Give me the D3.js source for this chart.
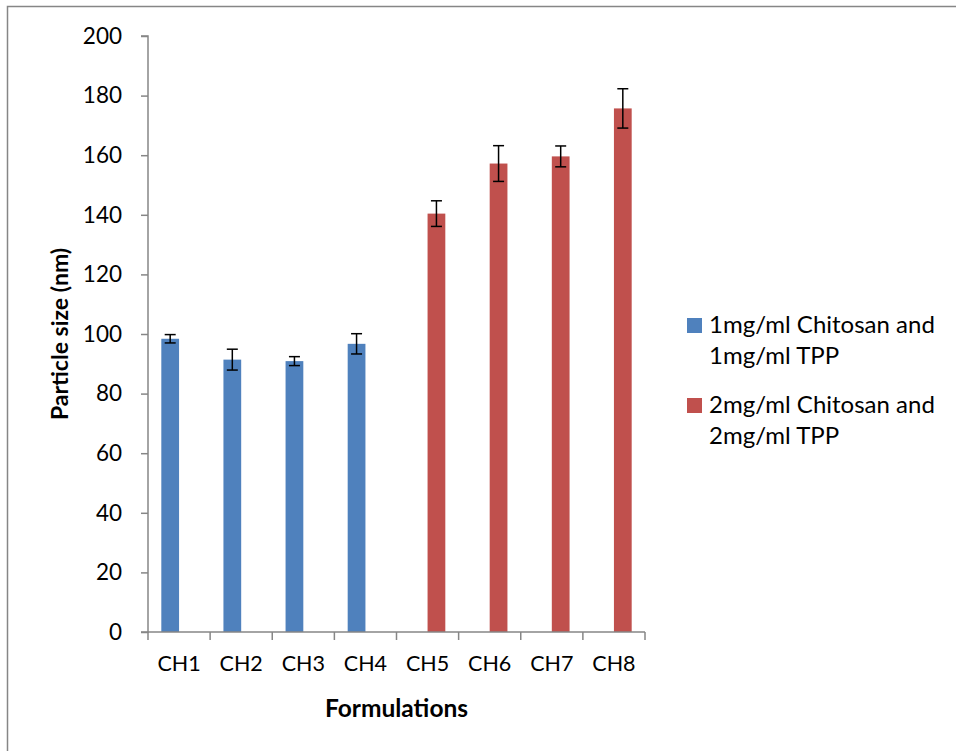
<!DOCTYPE html>
<html>
<head>
<meta charset="utf-8">
<script src="https://cdn.jsdelivr.net/npm/d3@7"></script>
<style>
  html, body { margin: 0; padding: 0; background: #fff; }
  svg { display: block; font-family: Lato, "Open Sans", sans-serif; }
</style>
</head>
<body>
<svg id="chart" width="956" height="751"></svg>
<script>
const categories = ["CH1", "CH2", "CH3", "CH4", "CH5", "CH6", "CH7", "CH8"];
const seriesNames = ["1mg/ml Chitosan and 1mg/ml TPP", "2mg/ml Chitosan and 2mg/ml TPP"];
const legendLines = [["1mg/ml Chitosan and", "1mg/ml TPP"], ["2mg/ml Chitosan and", "2mg/ml TPP"]];
const series1Values = [98.4, 91.4, 90.9, 96.7, null, null, null, null];
const series1Errors = [1.4, 3.5, 1.5, 3.4, null, null, null, null];
const series2Values = [null, null, null, null, 140.4, 157.2, 159.6, 175.7];
const series2Errors = [null, null, null, null, 4.3, 6.0, 3.5, 6.6];
const yTicks = [0, 20, 40, 60, 80, 100, 120, 140, 160, 180, 200];
const colors = ["#4F81BD", "#C0504D"];

(function () {
const svg = d3.select("#chart");
const pLeft = 148, pRight = 645, pTop = 36, pBottom = 632;
const axisColor = "#868686";

// outer border (top and left visible)
svg.append("path").attr("d", "M7.5,760 V6.5 H970")
  .attr("fill", "none").attr("stroke", axisColor).attr("stroke-width", 1.5);

const x = d3.scaleBand().domain(categories).range([pLeft, pRight]).padding(0);
const y = d3.scaleLinear().domain([0, 200]).range([pBottom, pTop]);
const gapWidth = 1.5;
const barW = x.bandwidth() / (2 + gapWidth);
const xs = d3.scaleBand().domain([0, 1]).range([-barW, barW]).padding(0);

const allSeries = [
  { values: series1Values, errors: series1Errors },
  { values: series2Values, errors: series2Errors }
];

allSeries.forEach((s, si) => {
  const data = categories.map((c, i) => ({ c, v: s.values[i], e: s.errors[i] })).filter(d => d.v != null);
  const g = svg.append("g");
  g.selectAll("rect").data(data).join("rect")
    .attr("x", d => x(d.c) + x.bandwidth() / 2 + xs(si))
    .attr("width", xs.bandwidth())
    .attr("y", d => y(d.v))
    .attr("height", d => y(0) - y(d.v))
    .attr("fill", colors[si]);
  const eg = g.selectAll("g.err").data(data).join("g").attr("class", "err");
  const cx = d => x(d.c) + x.bandwidth() / 2 + xs(si) + xs.bandwidth() / 2;
  eg.append("line").attr("x1", cx).attr("x2", cx)
    .attr("y1", d => y(d.v + d.e)).attr("y2", d => y(d.v - d.e))
    .attr("stroke", "#000").attr("stroke-width", 1.5);
  [1, -1].forEach(sg => {
    eg.append("line").attr("x1", d => cx(d) - 5.5).attr("x2", d => cx(d) + 5.5)
      .attr("y1", d => y(d.v + sg * d.e)).attr("y2", d => y(d.v + sg * d.e))
      .attr("stroke", "#000").attr("stroke-width", 1.5);
  });
});

// Y axis
const yAxis = svg.append("g").attr("transform", `translate(${pLeft},0)`)
  .call(d3.axisLeft(y).tickValues(yTicks).tickSize(7).tickPadding(19));
yAxis.select(".domain").attr("stroke", axisColor).attr("stroke-width", 1.5).attr("d", `M-7,${pTop}H0V${pBottom}H-7`);
yAxis.selectAll(".tick line").attr("stroke", axisColor).attr("stroke-width", 1.5);
yAxis.selectAll(".tick text").attr("font-size", 22.5).attr("fill", "#000").attr("font-family", "Lato, sans-serif");

// X axis
const xAxis = svg.append("g").attr("transform", `translate(0,${pBottom})`)
  .call(d3.axisBottom(x).tickSize(0).tickPadding(24));
xAxis.select(".domain").remove();
xAxis.append("line").attr("x1", pLeft).attr("x2", pRight).attr("y1", 0).attr("y2", 0)
  .attr("stroke", axisColor).attr("stroke-width", 1.5);
const boundaries = d3.range(categories.length + 1).map(i => pLeft + i * x.step());
xAxis.selectAll("line.bt").data(boundaries).join("line").attr("class", "bt")
  .attr("x1", d => d).attr("x2", d => d).attr("y1", 0).attr("y2", 8)
  .attr("stroke", axisColor).attr("stroke-width", 1.5);
xAxis.selectAll(".tick text").attr("font-size", 21.5).attr("fill", "#000").attr("font-family", "Lato, sans-serif");

// Axis titles
svg.append("text").attr("x", (pLeft + pRight) / 2).attr("y", 717)
  .attr("text-anchor", "middle").attr("font-size", 24.5).attr("font-weight", "bold").text("Formulations");
svg.append("text").attr("transform", `translate(68,${(pTop + pBottom) / 2}) rotate(-90)`)
  .attr("text-anchor", "middle").attr("font-size", 23).attr("font-weight", "bold").text("Particle size (nm)");

// Legend
const legendY = [318, 398];
seriesNames.forEach((name, i) => {
  svg.append("rect").attr("x", 687).attr("y", legendY[i]).attr("width", 15).attr("height", 15).attr("fill", colors[i]);
  legendLines[i].forEach((ln, j) => {
    svg.append("text").attr("x", 709).attr("y", legendY[i] + 15 + j * 31)
      .attr("font-size", 24).attr("fill", "#000").text(ln);
  });
});
})();
</script>
</body>
</html>
